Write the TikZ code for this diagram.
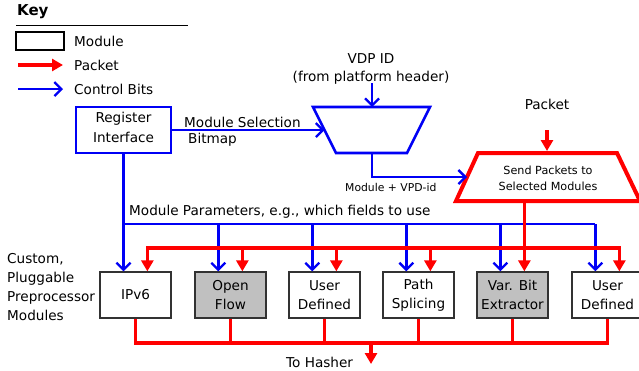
\documentclass[tikz,border=0pt]{standalone}
\usepackage{fontspec}
\setmainfont{DejaVu Sans}
\usetikzlibrary{arrows.meta}
\definecolor{pred}{RGB}{255,0,0}
\definecolor{cblue}{RGB}{0,0,245}
\definecolor{modgray}{RGB}{192,192,192}
\definecolor{modedge}{RGB}{50,50,50}
\begin{document}
\begin{tikzpicture}[x=1bp,y=-1bp,
  txt/.style={font=\fontsize{13.6bp}{19bp}\selectfont, inner sep=0pt},
  smalltxt/.style={font=\fontsize{11.2bp}{16bp}\selectfont, inner sep=0pt},
  module/.style={draw=modedge, line width=1.3bp, fill=white, minimum width=71bp, minimum height=46bp,
    align=center, inner sep=0pt, font=\fontsize{13.6bp}{19bp}\selectfont},
  grayed/.style={module, fill=modgray},
  cline/.style={draw=cblue, line width=2.3bp},
  carrow/.style={cline, -{Straight Barb[length=7bp,width=14bp]}},
  pline/.style={draw=pred, line width=3.5bp},
  parrow/.style={pline, -{Triangle[length=11bp,width=12bp]}},
]
\useasboundingbox (0,0) rectangle (639,370);

% ---------- Key ----------
\node[anchor=west, inner sep=0pt, font=\fontsize{15bp}{18bp}\selectfont\bfseries] (key) at (17,12) {Key};
\coordinate (keyl) at (16,25);
\coordinate (keyr) at (188,25);
\draw[black, line width=1bp] (keyl) -- (keyr);
\node[draw=black, line width=2.3bp, minimum width=48bp, minimum height=18bp, inner sep=0pt] (kmod) at (40,41) {};
\node[txt, anchor=west] (kmodt) at (74,41) {Module};
\coordinate (kp1) at (18,65);
\coordinate (kp2) at (63,65);
\draw[parrow] (kp1) -- (kp2);
\node[txt, anchor=west] (kpt) at (74,65) {Packet};
\coordinate (kc1) at (18,89);
\coordinate (kc2) at (63,89);
\draw[carrow] (kc1) -- (kc2);
\node[txt, anchor=west] (kct) at (74,89) {Control Bits};

% ---------- Register interface ----------
\node[draw=cblue, line width=2.5bp, minimum width=95bp, minimum height=46bp, inner sep=0pt] (reg) at (123.5,130) {};
\node[align=center, inner sep=0pt, font=\fontsize{13.6bp}{20bp}\selectfont] (regt) at (123.5,127.5) {Register\\Interface};

% ---------- Mux (blue trapezoid) ----------
\coordinate (m1) at (313,107);
\coordinate (m2) at (430,107);
\coordinate (m3) at (407,153);
\coordinate (m4) at (336,153);
\draw[cblue, line width=2.6bp, line join=miter] (m1) -- (m2) -- (m3) -- (m4) -- cycle;
\coordinate (muxtop) at (372,107);
\coordinate (muxbot) at (372,153);
\coordinate (muxleft) at (324.5,130);

\node[txt] (vdp) at (371,59) {VDP ID};
\node[txt] (vdpsub) at (371,78) {(from platform header)};
\coordinate (vdpfrom) at (372,83);
\draw[carrow] (vdpfrom) -- (muxtop);

\draw[carrow] (reg.east) -- (muxleft);
\node[txt, anchor=west] (selt1) at (184,122) {Module Selection};
\node[txt, anchor=west] (selt2) at (188,140) {Bitmap};

% ---------- Selector (red trapezoid) ----------
\coordinate (s1) at (478,153);
\coordinate (s2) at (617,153);
\coordinate (s3) at (640,201);
\coordinate (s4) at (456,201);
\draw[pred, line width=4bp, line join=miter] (s1) -- (s2) -- (s3) -- (s4) -- cycle;
\coordinate (selleft) at (467,177);
\coordinate (seltop) at (547,151);
\node[smalltxt, align=center] (selt) at (548,178) {Send Packets to\\Selected Modules};

\draw[carrow] (muxbot) |- (selleft);
\node[smalltxt, anchor=west, font=\fontsize{10.8bp}{14bp}\selectfont] (mvpd) at (345,187) {Module + VPD-id};

\node[txt] (pkt) at (547,104) {Packet};
\coordinate (pktfrom) at (547,130);
\draw[parrow] (pktfrom) -- (seltop);

% ---------- Modules ----------
\node[module] (b1) at (135.5,295) {IPv6};
\node[grayed] (b2) at (230.5,295) {Open\\Flow};
\node[module] (b3) at (324.5,295) {User\\Defined};
\node[module] (b4) at (418.5,295) {Path\\Splicing};
\node[grayed] (b5) at (512.5,295) {Var. Bit\\Extractor};
\node[module] (b6) at (607.5,295) {User\\Defined};

\foreach \i in {1,...,6}{
  \coordinate (bt\i) at ([xshift=24bp]b\i.north west);
  \coordinate (rt\i) at ([xshift=48bp]b\i.north west);
}

\node[txt, anchor=west, align=left, font=\fontsize{13.6bp}{18.7bp}\selectfont] (custom) at (7,287)
  {Custom,\\Pluggable\\Preprocessor\\Modules};

% ---------- Control bits (blue) ----------
\node[txt, anchor=west] (params) at (129,212) {Module Parameters, e.g., which fields to use};
\draw[carrow] (reg.south) -- (reg.south |- b1.north);
\draw[cline] (reg.south |- 0,224) -- (bt6 |- 0,224);
\foreach \i in {2,...,6}{
  \draw[carrow] (bt\i |- 0,224) -- (bt\i);
}

% ---------- Packets (red) ----------
\draw[pline, {Triangle[length=11bp,width=12bp]}-{Triangle[length=11bp,width=12bp]}]
  (rt1) |- (rt6 |- 0,248) -- (rt6);
\foreach \i in {2,3,4}{
  \draw[parrow] (rt\i |- 0,248) -- (rt\i);
}
\coordinate (selbot) at (rt5 |- 0,201);
\draw[parrow] (selbot) -- (rt5);

% ---------- To hasher ----------
\draw[pline] (b1.south) |- (b6.south |- 0,343) -- (b6.south);
\foreach \i in {2,...,5}{
  \draw[pline] (b\i.south) -- (b\i.south |- 0,343);
}
\coordinate (hashfrom) at (371,343);
\coordinate (hashto) at (371,364);
\draw[parrow] (hashfrom) -- (hashto);
\node[txt, anchor=west] (hasher) at (286,362) {To Hasher};
\end{tikzpicture}
\end{document}
